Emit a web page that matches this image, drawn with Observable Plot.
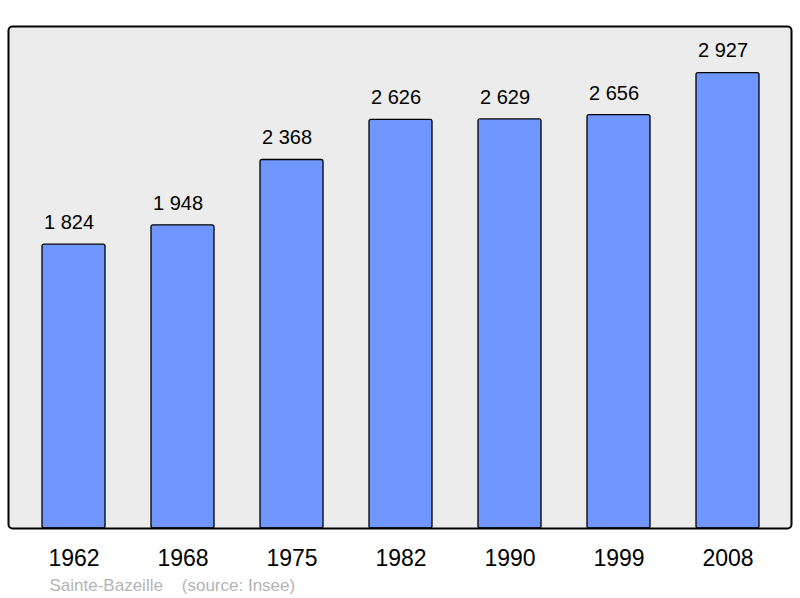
<!DOCTYPE html>
<html>
<head>
<meta charset="utf-8">
<script src="https://cdn.jsdelivr.net/npm/d3@7"></script>
<script src="https://cdn.jsdelivr.net/npm/@observablehq/plot@0.6"></script>
<style>
  html, body { margin: 0; padding: 0; background: #ffffff; }
  svg { display: block; }
</style>
</head>
<body>
<div id="chart"></div>
<script>
const years = ["1962", "1968", "1975", "1982", "1990", "1999", "2008"];
const population = [1824, 1948, 2368, 2626, 2629, 2656, 2927];
const valueLabels = ["1 824", "1 948", "2 368", "2 626", "2 629", "2 656", "2 927"];
const captionText = ["Sainte-Bazeille\u00a0\u00a0\u00a0\u00a0(source: Insee)"];

const data = years.map((y, i) => ({year: y, pop: population[i], label: valueLabels[i]}));
const font = "Liberation Sans, Arial, Helvetica, sans-serif";

const chart = Plot.plot({
  width: 800,
  height: 598,
  marginLeft: 8,
  marginRight: 9,
  marginTop: 26,
  marginBottom: 70,
  style: {fontFamily: font, background: "#ffffff", color: "#000"},
  x: {type: "band", domain: years, range: [41, 760], paddingInner: 0.424, paddingOuter: 0, label: null},
  y: {domain: [0, 3226], axis: null},
  marks: [
    Plot.frame({fill: "#ececec", stroke: "none", rx: 4}),
    Plot.barY(data, {x: "year", y: "pop", fill: "#7097ff", stroke: "#000", strokeWidth: 1.3, rx: 2}),
    Plot.text(data, {x: "year", y: "pop", text: "label", dx: -5, dy: -22, fontSize: 20, fill: "#000", lineAnchor: "middle"}),
    Plot.frame({fill: "none", stroke: "#000", strokeWidth: 2, rx: 4}),
    Plot.axisX({tickSize: 0, tickPadding: 21, fontSize: 23, fill: "#000", label: null}),
    Plot.text(captionText, {frameAnchor: "bottom-left", text: d => d, dx: 41, dy: 50, lineAnchor: "top", textAnchor: "start", fontSize: 17, fill: "#b4b4b4"})
  ]
});
document.getElementById("chart").appendChild(chart);
</script>
</body>
</html>
